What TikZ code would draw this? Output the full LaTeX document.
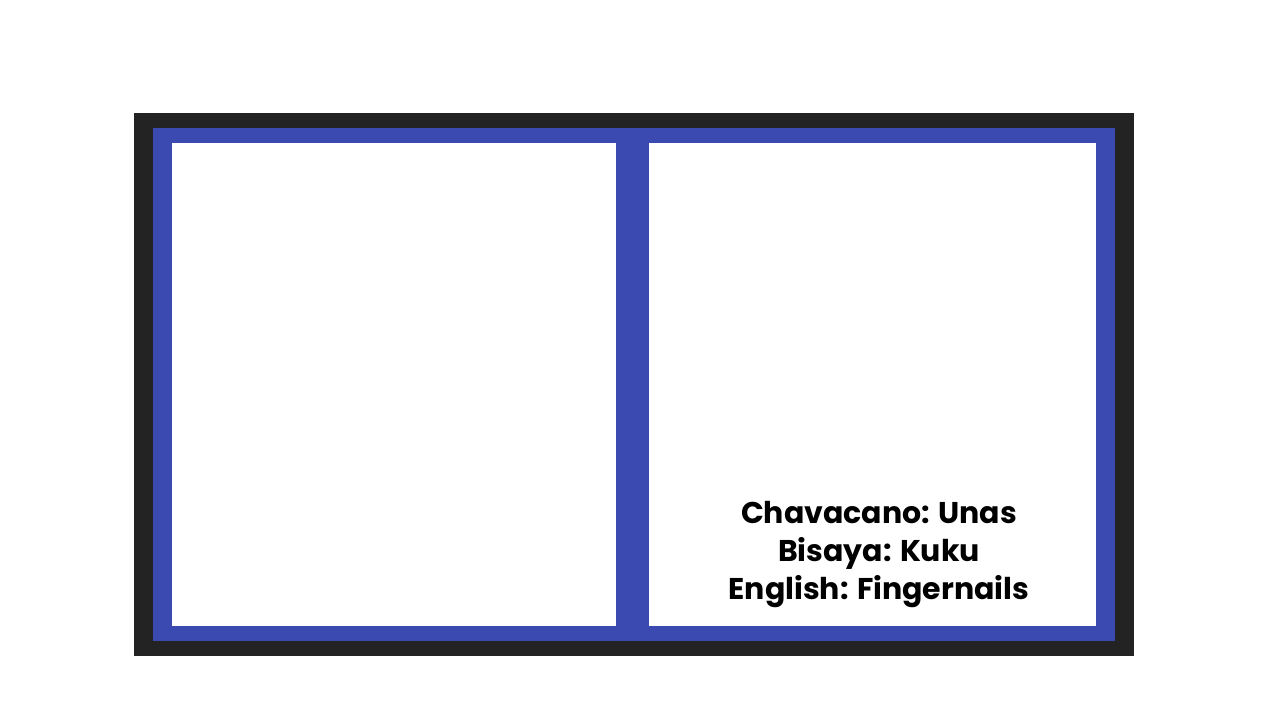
\documentclass[tikz,border=0pt]{standalone}
\usepackage{fontspec}
\setmainfont{Poppins}
\definecolor{framecolor}{RGB}{35,35,35}
\definecolor{bandcolor}{RGB}{59,74,176}
\begin{document}
\begin{tikzpicture}[x=1pt,y=-1pt,
    panel/.style={fill=white, draw=none},
    caption/.style={font=\fontsize{30}{38}\selectfont\bfseries, align=center, text=black}]
    \useasboundingbox (0,0) rectangle (1280,720);

    % Frame
    \fill[framecolor] (134,113) rectangle (1134,656);
    \fill[bandcolor] (153,128) rectangle (1115,641);

    % Panels
    \fill[panel] (172,143) rectangle (616,626);
    \fill[panel] (649,143) rectangle (1096,626);

    % Caption
    \node[caption] (words) at (879,555) {Chavacano: Unas\\Bisaya: Kuku\\English: Fingernails};
\end{tikzpicture}
\end{document}
